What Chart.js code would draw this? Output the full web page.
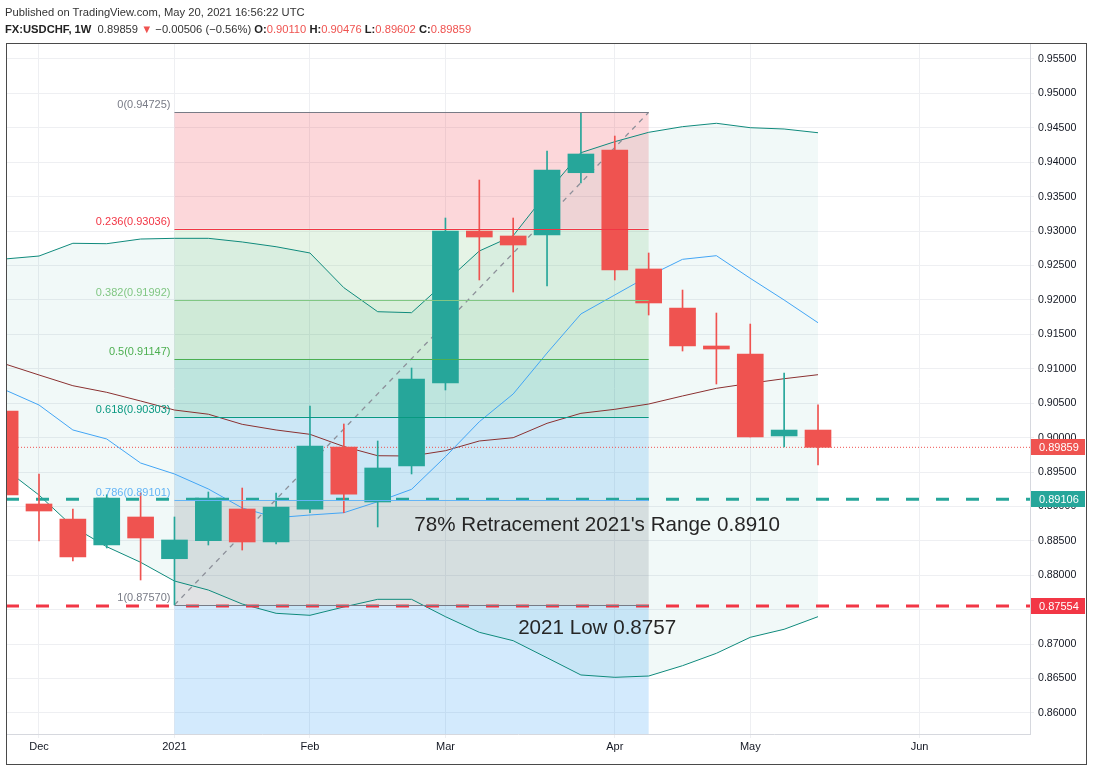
<!DOCTYPE html>
<html>
<head>
<meta charset="utf-8">
<script src="https://cdn.jsdelivr.net/npm/chart.js@4.4.0/dist/chart.umd.min.js"></script>
<style>
  html, body { margin: 0; padding: 0; background: #fff; }
  #wrap { position: relative; width: 1094px; height: 768px; }
  #hdr { position: absolute; left: 5px; top: 4px; z-index: 2;
         font-family: "Liberation Sans", Arial, sans-serif; font-size: 11.2px; color: #333; line-height: 17px; }
  #hdr b { color: #222; }
  .r { color: #ef5350; }
  canvas { position: absolute; left: 0; top: 0; }
</style>
</head>
<body>
<div id="wrap">
  <div id="hdr">
    <div>Published on TradingView.com, May 20, 2021 16:56:22 UTC</div>
    <div><b>FX:USDCHF, 1W</b>&nbsp; 0.89859 <span class="r">▼</span> −0.00506 (−0.56%) <b>O:</b><span class="r">0.90110</span> <b>H:</b><span class="r">0.90476</span> <b>L:</b><span class="r">0.89602</span> <b>C:</b><span class="r">0.89859</span></div>
  </div>
  <canvas id="chart" width="1094" height="768"></canvas>
</div>
<script>
// weekly bars, Monday dates
const weeks = ["2020-11-30", "2020-12-07", "2020-12-14", "2020-12-21", "2020-12-28",
  "2021-01-04", "2021-01-11", "2021-01-18", "2021-01-25", "2021-02-01", "2021-02-08",
  "2021-02-15", "2021-02-22", "2021-03-01", "2021-03-08", "2021-03-15", "2021-03-22",
  "2021-03-29", "2021-04-05", "2021-04-12", "2021-04-19", "2021-04-26", "2021-05-03",
  "2021-05-10", "2021-05-17"];
const open = [0.90387, 0.89036, 0.88818, 0.88440, 0.88847, 0.88241, 0.88503, 0.88963, 0.88484,
  0.88959, 0.89864, 0.89065, 0.89588, 0.90793, 0.93001, 0.92929, 0.92943, 0.93848, 0.94178,
  0.92450, 0.91883, 0.91331, 0.91215, 0.90024, 0.90110];
const high = [0.90470, 0.89472, 0.88963, 0.89170, 0.89196, 0.88847, 0.89210, 0.89268, 0.89196,
  0.90459, 0.90198, 0.89951, 0.91011, 0.93190, 0.93742, 0.93190, 0.94164, 0.94725, 0.94381,
  0.92682, 0.92144, 0.91810, 0.91650, 0.90939, 0.90476];
const low = [0.89050, 0.88498, 0.88208, 0.88397, 0.87932, 0.87570, 0.88440, 0.88367, 0.88455,
  0.88909, 0.88909, 0.88702, 0.89472, 0.90692, 0.92290, 0.92115, 0.92202, 0.93699, 0.92290,
  0.91781, 0.91258, 0.90779, 0.90009, 0.89864, 0.89602];
const close = [0.89167, 0.88934, 0.88266, 0.89123, 0.88542, 0.88513, 0.89123, 0.88484, 0.88992,
  0.89878, 0.89177, 0.89559, 0.90852, 0.93001, 0.92914, 0.92798, 0.93888, 0.94120, 0.92435,
  0.91956, 0.91331, 0.91287, 0.90009, 0.90110, 0.89859];

const bbUpper = [0.92595, 0.92638, 0.92823, 0.92817, 0.92885, 0.92895, 0.92895, 0.92842, 0.92773,
  0.92682, 0.92178, 0.91829, 0.91815, 0.92261, 0.92711, 0.92933, 0.93558, 0.94139, 0.94299,
  0.94435, 0.94517, 0.94566, 0.94502, 0.94483, 0.94429];
const bbLower = [0.89544, 0.89166, 0.88706, 0.88415, 0.88189, 0.87917, 0.87786, 0.87583, 0.87448,
  0.87419, 0.87540, 0.87651, 0.87651, 0.87399, 0.87172, 0.87050, 0.86802, 0.86552, 0.86518,
  0.86537, 0.86687, 0.86867, 0.87099, 0.87216, 0.87399];
const maFast = [0.90692, 0.90474, 0.90111, 0.89980, 0.89631, 0.89472, 0.89254, 0.88978, 0.88837,
  0.88876, 0.88909, 0.89069, 0.89249, 0.89723, 0.90231, 0.90634, 0.91229, 0.91796, 0.92072,
  0.92348, 0.92590, 0.92643, 0.92314, 0.91999, 0.91669];
const maSlow = [0.91069, 0.90910, 0.90754, 0.90658, 0.90532, 0.90401, 0.90340, 0.90193, 0.90111,
  0.90048, 0.89871, 0.89737, 0.89733, 0.89810, 0.89951, 0.89999, 0.90208, 0.90353, 0.90411,
  0.90488, 0.90605, 0.90716, 0.90789, 0.90856, 0.90914];

const fibRatios = ["0", "0.236", "0.382", "0.5", "0.618", "0.786", "1"];
const fibPrices = [0.94725, 0.93036, 0.91992, 0.91147, 0.90303, 0.89101, 0.87570];
const fibColors = ["#787b86", "#f23645", "#81c784", "#4caf50", "#089981", "#64b5f6", "#787b86"];
const fibFills = ["rgba(242,54,69,0.2)", "rgba(129,199,132,0.2)", "rgba(76,175,80,0.2)",
  "rgba(8,153,129,0.22)", "rgba(100,181,246,0.25)", "rgba(120,123,134,0.22)", "rgba(33,150,243,0.2)"];
const fibFrom = 5, fibTo = 19;

const supportLevel = 0.89106;
const lowLevel = 0.87554;
const lastPrice = 0.89859;

const yTicks = [0.955, 0.95, 0.945, 0.94, 0.935, 0.93, 0.925, 0.92, 0.915, 0.91, 0.905, 0.90,
  0.895, 0.89, 0.885, 0.88, 0.875, 0.87, 0.865, 0.86];
const monthTickIdx = [1, 5, 9, 13, 18, 22, 27];
const monthTickLabels = ["Dec", "2021", "Feb", "Mar", "Apr", "May", "Jun"];

const notes = [
  { text: "78% Retracement 2021's Range 0.8910", x: 17.48, y: 0.88731 },
  { text: "2021 Low 0.8757", x: 17.48, y: 0.87235 }
];

const GREEN = "#26a69a", RED = "#ef5350";
const xMin = 0.0257, xMax = 30.259;
const FONT = '"Liberation Sans", Arial, sans-serif';

const candleColors = open.map((o, i) => close[i] >= o ? GREEN : RED);
const pts = arr => arr.map((v, i) => ({ x: i, y: v }));
const hline = v => [{ x: xMin, y: v }, { x: xMax, y: v }];

const lineDs = (data, color, extra) => Object.assign({
  type: "line", data, borderColor: color, borderWidth: 1, pointRadius: 0,
  tension: 0, fill: false, order: 3
}, extra || {});

const fibPlugin = {
  id: "fib",
  beforeDatasetsDraw(chart) {
    const { ctx, scales: { x, y }, chartArea } = chart;
    const x1 = x.getPixelForValue(fibFrom), x2 = x.getPixelForValue(fibTo);
    ctx.save();
    for (let i = 0; i < fibPrices.length; i++) {
      const top = y.getPixelForValue(fibPrices[i]);
      const bot = i + 1 < fibPrices.length ? y.getPixelForValue(fibPrices[i + 1]) : chartArea.bottom;
      ctx.fillStyle = fibFills[i];
      ctx.fillRect(x1, top, x2 - x1, bot - top);
    }
    ctx.restore();
  },
  afterDatasetsDraw(chart) {
    const { ctx, scales: { x, y } } = chart;
    const x1 = x.getPixelForValue(fibFrom), x2 = x.getPixelForValue(fibTo);
    ctx.save();
    ctx.font = "11px " + FONT;
    ctx.textAlign = "right";
    ctx.textBaseline = "middle";
    fibPrices.forEach((p, i) => {
      const py = Math.round(y.getPixelForValue(p)) + 0.5;
      ctx.strokeStyle = fibColors[i];
      ctx.lineWidth = 1;
      ctx.beginPath();
      ctx.moveTo(x1, py);
      ctx.lineTo(x2, py);
      ctx.stroke();
      ctx.fillStyle = fibColors[i];
      ctx.fillText(fibRatios[i] + "(" + p.toFixed(5) + ")", x1 - 4, py - 8);
    });
    ctx.font = "20.6px " + FONT;
    ctx.textAlign = "center";
    ctx.fillStyle = "#262626";
    notes.forEach(n => ctx.fillText(n.text, x.getPixelForValue(n.x), y.getPixelForValue(n.y)));
    ctx.restore();
  },
  afterDraw(chart) {
    const { ctx, scales: { y }, chartArea } = chart;
    ctx.save();
    const badges = [[lastPrice, RED], [supportLevel, GREEN], [lowLevel, "#f23645"]];
    ctx.font = "11px " + FONT;
    ctx.textBaseline = "middle";
    ctx.textAlign = "left";
    badges.forEach(([v, c]) => {
      const py = y.getPixelForValue(v);
      ctx.fillStyle = c;
      ctx.fillRect(chartArea.right + 1, Math.round(py) - 8, 54, 16);
      ctx.fillStyle = "#fff";
      ctx.fillText(v.toFixed(5), chartArea.right + 9, py + 0.5);
    });
    ctx.strokeStyle = "#4a4a4a";
    ctx.lineWidth = 1;
    ctx.strokeRect(6.5, 43.5, 1080, 721);
    ctx.restore();
  }
};

const config = {
  type: "bar",
  data: {
    datasets: [
      lineDs(pts(bbUpper), "#0f8a7c", { fill: "+1", backgroundColor: "rgba(8,153,129,0.055)", order: 4 }),
      lineDs(pts(bbLower), "#0f8a7c", { order: 4 }),
      lineDs(pts(maFast), "#42a5f5"),
      lineDs(pts(maSlow), "#8a3030"),
      lineDs([{ x: fibFrom, y: fibPrices[6] }, { x: fibTo, y: fibPrices[0] }], "#8c8f99",
        { borderDash: [5, 5], borderWidth: 1.3 }),
      lineDs(hline(lastPrice), RED, { borderDash: [1, 2] }),
      lineDs(hline(supportLevel), GREEN, { borderDash: [13, 17], borderWidth: 3, order: 2 }),
      lineDs(hline(lowLevel), "#f23645", { borderDash: [13, 17], borderWidth: 3, order: 2 }),
      {
        type: "bar", grouped: false, order: 1, barThickness: 1,
        data: weeks.map((_, i) => ({ x: i, y: [low[i], high[i]] })),
        backgroundColor: candleColors
      },
      {
        type: "bar", grouped: false, order: 0, barThickness: 26,
        data: weeks.map((_, i) => ({ x: i, y: [open[i], close[i]] })),
        backgroundColor: candleColors
      }
    ]
  },
  options: {
    responsive: false,
    animation: false,
    layout: { padding: { left: 6, top: 43, right: 7, bottom: 4 } },
    plugins: { legend: { display: false }, tooltip: { enabled: false } },
    scales: {
      x: {
        type: "linear", min: xMin, max: xMax, offset: false,
        grid: { color: "#eeeff2", offset: false, tickLength: 4 },
        border: { color: "#d6d8de" },
        afterBuildTicks: s => { s.ticks = monthTickIdx.map(v => ({ value: v })); },
        afterFit: s => { s.height = 30; },
        ticks: {
          autoSkip: false, maxRotation: 0, padding: 2,
          color: "#131722", font: { family: FONT, size: 11 },
          callback: v => monthTickLabels[monthTickIdx.indexOf(v)]
        }
      },
      y: {
        position: "right", min: 0.856947, max: 0.957324,
        grid: { color: "#eeeff2", tickLength: 4 },
        border: { color: "#d6d8de" },
        afterBuildTicks: s => { s.ticks = yTicks.map(v => ({ value: v })); },
        afterFit: s => { s.width = 57; },
        ticks: {
          padding: 4, color: "#131722", font: { family: FONT, size: 10.6 },
          callback: v => v.toFixed(5)
        }
      }
    }
  },
  plugins: [fibPlugin]
};

window.onload = function () {
  window.fxChart = new Chart(document.getElementById("chart"), config);
};
</script>
</body>
</html>
